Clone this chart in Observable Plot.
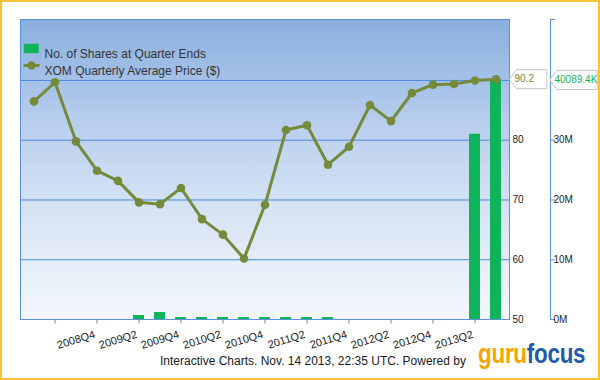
<!DOCTYPE html>
<html><head><meta charset="utf-8">
<script src="https://cdn.jsdelivr.net/npm/d3@7"></script>
<script src="https://cdn.jsdelivr.net/npm/@observablehq/plot@0.6"></script>
<style>
html,body{margin:0;padding:0;background:#fff;}
#wrap{position:relative;width:600px;height:380px;overflow:hidden;background:#fff;font-family:"Liberation Sans",Arial,sans-serif;}
#chart svg{display:block;}
#border{position:absolute;left:0;top:0;right:0;bottom:0;border:2px solid #fbc232;box-sizing:border-box;pointer-events:none;}
#footer{position:absolute;left:0;top:348px;width:600px;height:32px;}
#credit{position:absolute;left:160px;top:6.8px;font-size:12px;line-height:12px;color:#1a1a1a;white-space:nowrap;}
#logo{position:absolute;left:478px;top:-7.5px;font-size:27px;line-height:27px;font-weight:bold;white-space:nowrap;transform:scaleX(0.83);transform-origin:0 0;letter-spacing:-0.3px;}
#logo .g{color:#f6a500;}
#logo .f{color:#1f5ba6;}
</style></head><body>
<div id="wrap"><div id="chart"></div>
<div id="footer"><div id="credit">Interactive Charts. Nov. 14 2013, 22:35 UTC. Powered by</div><div id="logo"><span class="g">guru</span><span class="f">focus</span></div></div>
<div id="border"></div></div>
<script>
const quarters = ["2008Q1","2008Q2","2008Q3","2008Q4","2009Q1","2009Q2","2009Q3","2009Q4",
  "2010Q1","2010Q2","2010Q3","2010Q4","2011Q1","2011Q2","2011Q3","2011Q4",
  "2012Q1","2012Q2","2012Q3","2012Q4","2013Q1","2013Q2","2013Q3"];
const avgPrice = [86.5,89.7,79.8,74.9,73.2,69.6,69.3,72.0,66.8,64.2,60.2,69.2,81.7,
  82.5,75.9,78.9,85.9,83.2,87.9,89.3,89.4,90.0,90.2];
const sharesK = [0,0,0,0,0,670,1170,330,330,330,330,330,330,330,330,0,0,0,0,0,0,31000,40089.4];
const tickQuarters = ["2008Q2","2008Q4","2009Q2","2009Q4","2010Q2","2010Q4","2011Q2","2011Q4","2012Q2","2012Q4","2013Q2"];
const tickLabels = ["2008Q4","2009Q2","2009Q4","2010Q2","2010Q4","2011Q2","2011Q4","2012Q2","2012Q4","2013Q2"];
const priceTicks = [50,60,70,80];
const gridValues = [50,60,70,80,90];
const shareTicksM = [0,10,20,30];
const shareTickLabels = ["0M","10M","20M","30M"];
const seriesNames = ["No. of Shares at Quarter Ends","XOM Quarterly Average Price ($)"];

const priceMin = 50, priceMax = 100.2;
const toPrice = m => priceMin + m; // shares (millions) onto the shared vertical scale
const green = "#0fb35a", olive = "#758a3a", blue = "#4a8ade", frameBlue = "#5b90da";

const data = quarters.map((q, i) => ({q, price: avgPrice[i], shares: sharesK[i]}));
const last = data[data.length - 1];

const defsMark = () => {
  const defs = d3.create("svg:defs");
  const g = defs.append("linearGradient").attr("id", "bgGrad").attr("x1", 0).attr("y1", 0).attr("x2", 0).attr("y2", 1);
  [[0,"#8aaedd"],[0.2,"#a4c1e8"],[0.4,"#bfd3ef"],[0.6,"#d3e1f4"],[0.8,"#e4edf8"],[1,"#f5f8fd"]]
    .forEach(([o,c]) => g.append("stop").attr("offset", o).attr("stop-color", c));
  return defs.node();
};
const boxSymbol = {draw(ctx){ ctx.rect(-7.5,-4.7,15,9.4); }};
const lineSymbol = {draw(ctx){ ctx.rect(-8,-1.5,16,3); ctx.moveTo(4.2,0); ctx.arc(0,0,4.2,0,2*Math.PI); }};
const tagSymbol = w => ({draw(ctx){ ctx.moveTo(0,0); ctx.lineTo(7,-9.5); ctx.lineTo(w,-9.5); ctx.lineTo(w,9.5); ctx.lineTo(7,9.5); ctx.closePath(); }});

const shareAxisTicks = [...shareTicksM, priceMax - priceMin].map(toPrice);

const chart = Plot.plot({
  width: 600, height: 348,
  marginLeft: 20, marginRight: 91, marginTop: 19, marginBottom: 29,
  style: {fontFamily: "'Liberation Sans', Arial, sans-serif", fontSize: "10px", color: "#222", background: "transparent", overflow: "visible"},
  x: {type: "band", domain: quarters, paddingInner: 0.5, paddingOuter: 0.25, axis: null},
  y: {domain: [priceMin, priceMax], axis: null},
  marks: [
    defsMark,
    Plot.frame({fill: "url(#bgGrad)", stroke: null}),
    Plot.gridY(gridValues, {stroke: blue, strokeOpacity: 1, strokeWidth: 1}),
    Plot.barY(data, {x: "q", y1: priceMin, y2: d => toPrice(d.shares / 1000), fill: green}),
    Plot.line(data, {x: "q", y: "price", stroke: olive, strokeWidth: 3}),
    Plot.dot(data, {x: "q", y: "price", r: 4.3, fill: olive, stroke: null}),
    Plot.frame({stroke: frameBlue, strokeOpacity: 1}),
    // x ticks and rotated labels
    Plot.axisX({ticks: tickQuarters, tickFormat: () => "", tickSize: 4.5, stroke: frameBlue, label: null}),
    Plot.axisX({ticks: tickQuarters, tickFormat: d => tickLabels.includes(d) ? d : "", tickSize: 0, tickPadding: 10.5, dx: -3.5,
      tickRotate: -17, textAnchor: "end", lineAnchor: "top", fill: "#222", fontSize: 11, label: null}),
    Plot.axisY(priceTicks, {anchor: "right", tickSize: 0, tickPadding: 3, fill: "#222", fontSize: 10, label: null}),
    Plot.frame({anchor: "right", dx: 41, stroke: frameBlue, strokeOpacity: 1}),
    Plot.axisY(shareAxisTicks, {anchor: "right", dx: 41, tickSize: 4, tickPadding: -1, stroke: frameBlue, fill: "#222", fontSize: 10,
      tickFormat: d => { const i = shareTicksM.indexOf(Math.round((d - priceMin) * 1000) / 1000); return i >= 0 ? shareTickLabels[i] : ""; }, label: null}),
    // legend
    Plot.dot([seriesNames[0]], {frameAnchor: "top-left", dx: 10.8, dy: 29, symbol: boxSymbol, fill: green, stroke: null}),
    Plot.dot([seriesNames[1]], {frameAnchor: "top-left", dx: 11, dy: 46, symbol: lineSymbol, fill: olive, stroke: null}),
    Plot.text([seriesNames[0]], {frameAnchor: "top-left", dx: 24, dy: 29.5, text: d => d, textAnchor: "start", fontSize: 12, fill: "#333"}),
    Plot.text([seriesNames[1]], {frameAnchor: "top-left", dx: 24, dy: 46.5, text: d => d, textAnchor: "start", fontSize: 12, fill: "#333"}),
    // value tags
    Plot.dot([last], {y: "price", frameAnchor: "right", symbol: tagSymbol(37.4), fill: "white", stroke: "#c4c4c4", strokeWidth: 1}),
    Plot.text([last], {y: "price", frameAnchor: "right", dx: 5, text: d => d3.format(".1f")(d.price), textAnchor: "start", fill: olive, fontSize: 10}),
    Plot.dot([last], {y: d => toPrice(d.shares / 1000), frameAnchor: "right", dx: 40.3, symbol: tagSymbol(47.4), fill: "white", stroke: "#c4c4c4", strokeWidth: 1}),
    Plot.text([last], {y: d => toPrice(d.shares / 1000), frameAnchor: "right", dx: 45, text: d => d3.format(".1f")(d.shares) + "K", textAnchor: "start", fill: green, fontSize: 10})
  ]
});
document.getElementById("chart").appendChild(chart);
</script>
</body></html>
